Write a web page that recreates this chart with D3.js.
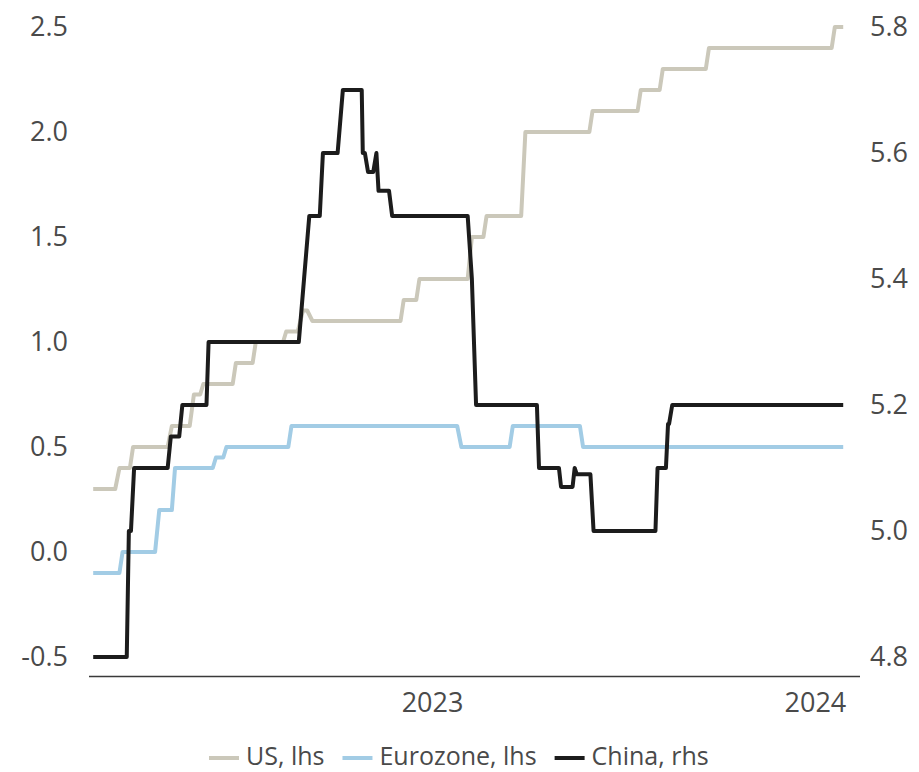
<!DOCTYPE html>
<html>
<head>
<meta charset="utf-8">
<script src="https://cdn.jsdelivr.net/npm/d3@7"></script>
<style>
  html, body { margin: 0; padding: 0; background: #ffffff; }
  svg { display: block; }
  text { font-family: "Open Sans", "Noto Sans", sans-serif; fill: #4a4a4a; }
</style>
</head>
<body>
<svg id="chart" width="919" height="772"></svg>
<script>
// ---------- data ----------
const usDates = ["2022-02-12","2022-03-05","2022-03-09","2022-03-19","2022-03-22","2022-04-24","2022-04-28",
  "2022-05-15","2022-05-19","2022-05-25","2022-05-28","2022-06-25","2022-06-28","2022-07-14","2022-07-17",
  "2022-08-12","2022-08-15","2022-08-26","2022-08-31","2022-09-04","2022-09-09","2022-12-02","2022-12-05",
  "2022-12-17","2022-12-20","2023-02-04","2023-02-08","2023-02-19","2023-02-22","2023-03-27","2023-03-31",
  "2023-05-31","2023-06-03","2023-07-16","2023-07-19","2023-08-06","2023-08-09","2023-09-19","2023-09-22",
  "2024-01-17","2024-01-20","2024-01-28"];
const usValues = [0.3,0.3,0.4,0.4,0.5,0.5,0.6,
  0.6,0.75,0.75,0.8,0.8,0.9,0.9,1.0,
  1.0,1.05,1.05,1.15,1.15,1.1,1.1,1.2,
  1.2,1.3,1.3,1.5,1.5,1.6,1.6,2.0,
  2.0,2.1,2.1,2.2,2.2,2.3,2.3,2.4,
  2.4,2.5,2.5];

const euDates = ["2022-02-12","2022-03-09","2022-03-12","2022-04-12","2022-04-16","2022-04-28","2022-05-01",
  "2022-06-06","2022-06-09","2022-06-16","2022-06-19","2022-08-17","2022-08-20","2023-01-25","2023-01-29",
  "2023-03-16","2023-03-19","2023-05-22","2023-05-25","2024-01-28"];
const euValues = [-0.1,-0.1,0.0,0.0,0.2,0.2,0.4,
  0.4,0.45,0.45,0.5,0.5,0.6,0.6,0.5,
  0.5,0.6,0.6,0.5,0.5];

const cnDates = ["2022-02-12","2022-03-16","2022-03-18","2022-03-20","2022-03-23","2022-04-24","2022-04-27",
  "2022-05-05","2022-05-08","2022-05-31","2022-06-02","2022-08-27","2022-09-01","2022-09-06","2022-09-16",
  "2022-09-19","2022-10-03","2022-10-08","2022-10-26","2022-10-27","2022-10-29","2022-11-01","2022-11-06",
  "2022-11-09","2022-11-11","2022-11-21","2022-11-24","2023-02-04","2023-02-08","2023-02-12","2023-04-11",
  "2023-04-13","2023-05-02","2023-05-04","2023-05-15","2023-05-17","2023-05-19","2023-06-01","2023-06-04",
  "2023-08-02","2023-08-04","2023-08-12","2023-08-14","2023-08-15","2023-08-18","2024-01-28"];
const cnValues = [4.8,4.8,5.0,5.0,5.1,5.1,5.15,
  5.15,5.2,5.2,5.3,5.3,5.4,5.5,5.5,
  5.6,5.6,5.7,5.7,5.6,5.6,5.57,5.57,
  5.6,5.54,5.54,5.5,5.5,5.4,5.2,5.2,
  5.1,5.1,5.07,5.07,5.1,5.09,5.09,5.0,
  5.0,5.1,5.1,5.17,5.17,5.2,5.2];

const leftTicks = [-0.5, 0.0, 0.5, 1.0, 1.5, 2.0, 2.5];
const rightTicks = [4.8, 5.0, 5.2, 5.4, 5.6, 5.8];
const xTickLabels = ["2023", "2024"];
const seriesNames = ["US, lhs", "Eurozone, lhs", "China, rhs"];
const seriesColors = ["#cbc8ba", "#a2cce5", "#1c1c1c"];

// ---------- layout ----------
const parse = d3.timeParse("%Y-%m-%d");
const svg = d3.select("#chart");
const FONT = '"Open Sans", "Noto Sans", sans-serif';

const x = d3.scaleTime()
  .domain([parse("2022-02-08"), parse("2024-02-13")])
  .range([89, 860]);
const yL = d3.scaleLinear().domain([-0.5, 2.5]).range([657, 27]);
const yR = d3.scaleLinear().domain([4.8, 5.8]).range([657, 27]);

// x axis line
svg.append("line")
  .attr("x1", 89).attr("x2", 860)
  .attr("y1", 676.5).attr("y2", 676.5)
  .attr("stroke", "#3a3a3a").attr("stroke-width", 1.5);

// x tick labels
const xAxis = d3.axisBottom(x)
  .tickValues(xTickLabels.map(s => parse(s + "-01-01")))
  .tickFormat(d3.timeFormat("%Y"))
  .tickSize(0).tickPadding(0);
const gx = svg.append("g").attr("transform", "translate(0,703)").call(xAxis);
gx.select(".domain").remove();
gx.selectAll("text").attr("font-size", 27).attr("dy", "0.35em").attr("fill", "#4a4a4a")
  .style("font-family", FONT);

// left axis labels
const gl = svg.append("g").attr("transform", "translate(68,0)")
  .call(d3.axisLeft(yL).tickValues(leftTicks).tickFormat(d3.format(".1f")).tickSize(0).tickPadding(0));
gl.select(".domain").remove();
gl.selectAll("text").attr("font-size", 27).attr("fill", "#4a4a4a")
  .style("font-family", FONT)
  .text(d => (d < 0 ? "-" : "") + d3.format(".1f")(Math.abs(d)));

// right axis labels
const gr = svg.append("g").attr("transform", "translate(870,0)")
  .call(d3.axisRight(yR).tickValues(rightTicks).tickFormat(d3.format(".1f")).tickSize(0).tickPadding(0));
gr.select(".domain").remove();
gr.selectAll("text").attr("font-size", 27).attr("fill", "#4a4a4a")
  .style("font-family", FONT);

// series
function build(dates, values) {
  return dates.map((d, i) => ({ date: parse(d), value: values[i] }));
}
const series = [
  { data: build(usDates, usValues), y: yL },
  { data: build(euDates, euValues), y: yL },
  { data: build(cnDates, cnValues), y: yR }
];
series.forEach((s, i) => {
  const line = d3.line().x(d => x(d.date)).y(d => s.y(d.value));
  svg.append("path")
    .datum(s.data)
    .attr("fill", "none")
    .attr("stroke", seriesColors[i])
    .attr("stroke-width", 4)
    .attr("stroke-linejoin", "round")
    .attr("d", line);
});

// legend
const legend = svg.append("g").attr("transform", "translate(209,0)");
let lx = 0;
seriesNames.forEach((name, i) => {
  legend.append("line")
    .attr("x1", lx).attr("x2", lx + 30)
    .attr("y1", 758).attr("y2", 758)
    .attr("stroke", seriesColors[i]).attr("stroke-width", 4);
  const t = legend.append("text")
    .attr("x", lx + 37).attr("y", 765)
    .attr("font-size", 25).attr("fill", "#4a4a4a")
    .style("font-family", FONT)
    .text(name);
  lx += 37 + t.node().getComputedTextLength() + 18;
});
</script>
</body>
</html>
